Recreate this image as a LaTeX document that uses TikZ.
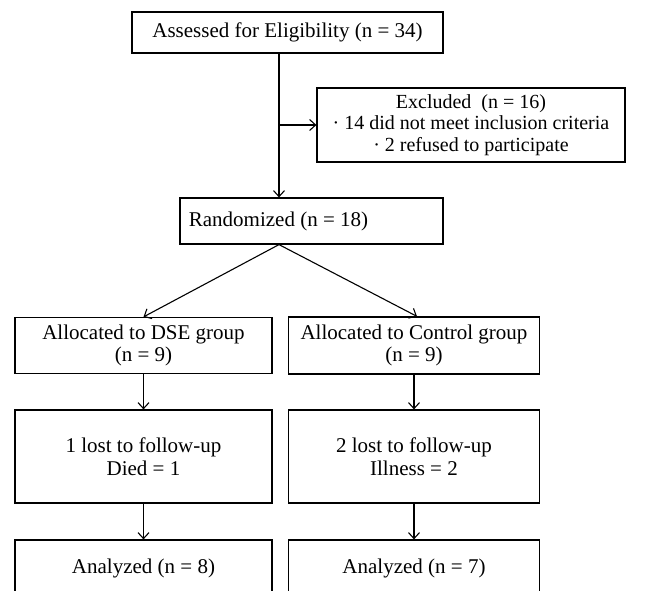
\documentclass[tikz,border=0pt]{standalone}
\usepackage{fontspec}
\setmainfont{Liberation Serif}
\usetikzlibrary{arrows.meta}
\begin{document}
\begin{tikzpicture}[x=1pt,y=-1pt,
  box/.style={draw,line width=1.2pt,inner sep=0pt,align=center,font=\fontsize{21}{22.5}\selectfont},
  arr/.style={line width=1.1pt,-{Straight Barb[length=6pt,width=11pt,line width=1.1pt]}},
  ln/.style={line width=1.1pt}]
\useasboundingbox (0,0) rectangle (662,591);
\clip (0,0) rectangle (662,591);
\node[box,minimum width=311pt,minimum height=41pt] (assess) at (287.5,32.5) {Assessed for Eligibility (n = 34)};
\node[box,minimum width=308pt,minimum height=74pt,font=\fontsize{20}{21.5}\selectfont] (excl) at (471,125) {Excluded~ (n = 16)\\ · 14 did not meet inclusion criteria\\ · 2 refused to participate};
\node[box,minimum width=263pt,minimum height=46pt] (rand) at (311.5,221) {\hspace*{-66pt}Randomized (n = 18)};
\node[box,minimum width=257pt,minimum height=56pt] (dse) at (143.5,345.5) {Allocated to DSE group\\(n = 9)};
\node[box,minimum width=251pt,minimum height=57pt] (ctrl) at (414,345.5) {Allocated to Control group\\(n = 9)};
\node[box,minimum width=257pt,minimum height=93pt] (lost1) at (143.5,456.5) {1 lost to follow-up\\Died = 1};
\node[box,minimum width=251pt,minimum height=93pt] (lost2) at (414,456.5) {2 lost to follow-up\\Illness = 2};
\node[box,minimum width=257pt,minimum height=56pt] (an1) at (143.5,568) {Analyzed (n = 8)};
\node[box,minimum width=251pt,minimum height=56pt] (an2) at (414,568) {Analyzed (n = 7)};
\coordinate (trunk) at (279,0);
\draw[arr] (assess.south -| trunk) -- (rand.north -| trunk);
\draw[arr] (trunk |- excl.west) -- (excl.west);
\draw[arr] (rand.south -| trunk) -- (dse.north);
\draw[arr] (rand.south -| trunk) -- ([xshift=3pt]ctrl.north);
\draw[arr] (dse) -- (lost1);
\draw[arr] (ctrl) -- (lost2);
\draw[arr] (lost1) -- (an1);
\draw[arr] (lost2) -- (an2);
\end{tikzpicture}
\end{document}
